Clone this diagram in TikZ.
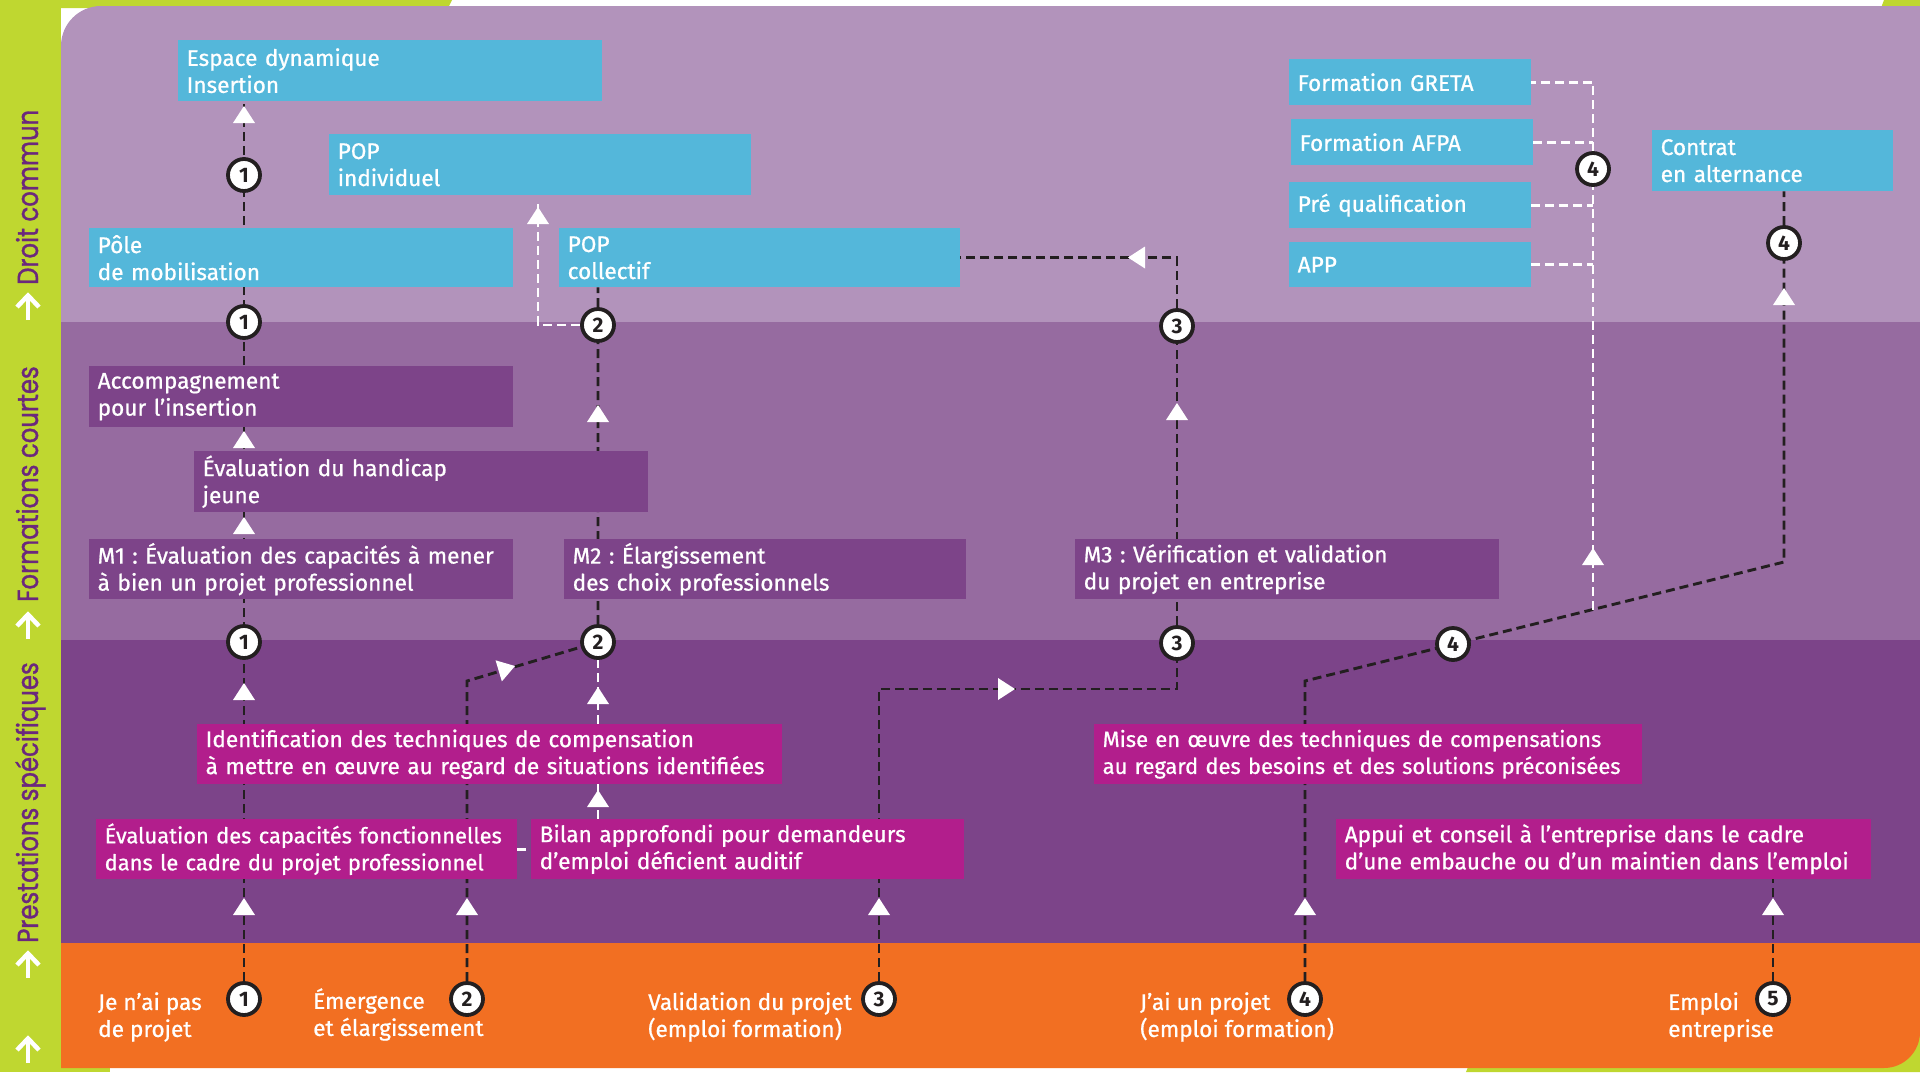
\documentclass[tikz,border=0pt]{standalone}
\usepackage{fontspec}
\setmainfont{Fira Sans}
\newfontfamily\boxfont[FakeBold=0.8]{Fira Sans}
\newfontfamily\stripfont[FakeStretch=0.84,FakeBold=1.2]{Poppins}
\usetikzlibrary{calc}
\pgfdeclarelayer{bg}
\pgfdeclarelayer{routes}
\pgfdeclarelayer{top}
\pgfsetlayers{bg,routes,main,top}

\definecolor{cLime}{HTML}{BFD730}
\definecolor{cBandA}{HTML}{B293BB}
\definecolor{cBandB}{HTML}{966BA0}
\definecolor{cBandC}{HTML}{7C4489}
\definecolor{cOrange}{HTML}{F26F22}
\definecolor{cBlue}{HTML}{54B7DA}
\definecolor{cViolet}{HTML}{7D4489}
\definecolor{cMag}{HTML}{B21E8C}
\definecolor{cInk}{HTML}{231F20}
\definecolor{cStripText}{HTML}{6B287D}

\frenchspacing
\newcommand\oneline[1]{\mbox{#1}}

\begin{document}
\begin{tikzpicture}[x=1pt,y=-1pt,
  boxbase/.style={anchor=north west, inner xsep=8.5pt, inner ysep=0pt, align=left,
    text=white, font=\boxfont\fontsize{22.6}{27}\selectfont},
  bluebox/.style={boxbase, fill=cBlue},
  violetbox/.style={boxbase, fill=cViolet},
  magbox/.style={boxbase, fill=cMag},
  tighttext/.style={font=\boxfont\fontsize{21.9}{27}\selectfont},
  blackdash/.style={draw=cInk, line width=2.9pt, dash pattern=on 9pt off 5pt},
  whitedash/.style={draw=white, line width=2.9pt, dash pattern=on 9pt off 5pt},
  numc/.style={circle, draw=cInk, line width=3.8pt, fill=white, minimum size=32pt,
    inner sep=0pt, font=\fontsize{21}{21}\selectfont\bfseries, text=cInk},
  steplabel/.style={anchor=west, inner sep=0pt, align=left, text=white,
    font=\boxfont\fontsize{22.6}{27}\selectfont},
  bandlabel/.style={rotate=90, anchor=base west, inner sep=0pt, text=cStripText,
    font=\stripfont\fontsize{29}{29}\selectfont},
  tiphead/.pic={\fill[white] (0pt,0pt) -- (-17pt,11pt) -- (-17pt,-11pt) -- cycle;},
  bandarrow/.pic={\draw[white, line width=4.5pt] (0pt,-13pt) -- (0pt,11pt);
    \draw[white, line width=4.5pt, miter limit=4] (-11pt,0pt) -- (0pt,11.5pt) -- (11pt,0pt);}
]
\useasboundingbox (0,0) rectangle (1920,1072);

\begin{pgfonlayer}{bg}
  % lime frame behind the panel
  \fill[cLime] (0,0) rectangle (61,1072);
  \fill[cLime] (0,0) -- (452,0) -- (448,8) -- (0,8) -- cycle;
  \fill[cLime] (1884,0) -- (1920,0) -- (1920,8) -- (1881,8) -- cycle;
  \fill[cLime] (0,1062) rectangle (110,1072);
  \fill[cLime] (1470,1062) -- (1920,1000) -- (1920,1072) -- (1466,1072) -- cycle;
  % panel with its four bands
  \begin{scope}
    \clip (61,1068) -- (61,46) arc[start angle=180, end angle=90, radius=40pt]
          -- (1920,6) -- (1920,1032) arc[start angle=0, end angle=-90, radius=36pt] -- cycle;
    \fill[cBandA] (61,0) rectangle (1920,322);
    \fill[cBandB] (61,322) rectangle (1920,640);
    \fill[cBandC] (61,640) rectangle (1920,943);
    \fill[cOrange] (61,943) rectangle (1920,1072);
  \end{scope}
\end{pgfonlayer}

% side labels
\node[bandlabel] (lblA) at (38,285) {Droit commun};
\node[bandlabel] (lblB) at (38,602) {Formations courtes};
\node[bandlabel] (lblC) at (38,943) {Prestations spécifiques};
\pic at (28,307) {bandarrow};
\pic at (28,626) {bandarrow};
\pic at (28,965) {bandarrow};
\pic at (28,1050) {bandarrow};

% boxes: common law
\node[bluebox, text width=407pt, minimum height=61pt] (edi) at (178,40) {Espace dynamique\\Insertion};
\node[bluebox, text width=405pt, minimum height=61pt] (popi) at (329,134) {POP\\individuel};
\node[bluebox, text width=407pt, minimum height=59pt] (pole) at (89,228) {Pôle\\de mobilisation};
\node[bluebox, text width=384pt, minimum height=59pt] (popc) at (559,228) {POP\\collectif};
\node[bluebox, text width=225pt, minimum height=46pt] (greta) at (1289,59) {Formation GRETA};
\node[bluebox, text width=225pt, minimum height=46pt] (afpa) at (1291,119) {Formation AFPA};
\node[bluebox, text width=225pt, minimum height=46pt] (preq) at (1289,182) {Pré qualification};
\node[bluebox, text width=225pt, minimum height=45pt] (app) at (1289,242) {APP};
\node[bluebox, text width=224pt, minimum height=61pt] (contrat) at (1652,130) {Contrat\\en alternance};

% boxes: short training
\node[violetbox, text width=407pt, minimum height=61pt] (accomp) at (89,366) {Accompagnement\\pour l’insertion};
\node[violetbox, text width=437pt, minimum height=61pt] (evalh) at (194,451) {Évaluation du handicap\\jeune};
\node[violetbox, text width=407pt, minimum height=60pt] (m1) at (89,539) {\oneline{M1 : Évaluation des capacités à mener}\\\oneline{à bien un projet professionnel}};
\node[violetbox, text width=385pt, minimum height=60pt] (m2) at (564,539) {M2 : Élargissement\\des choix professionnels};
\node[violetbox, text width=407pt, minimum height=60pt] (m3) at (1075,539) {M3 : Vérification et validation\\du projet en entreprise};

% boxes: specific services
\node[magbox, text width=568pt, minimum height=60pt] (ident) at (197,724) {\oneline{Identification des techniques de compensation}\\\oneline{à mettre en œuvre au regard de situations identifiées}};
\node[magbox, tighttext, text width=404pt, minimum height=60pt] (evalc) at (96,819) {\oneline{Évaluation des capacités fonctionnelles}\\\oneline{dans le cadre du projet professionnel}};
\node[magbox, text width=416pt, minimum height=60pt] (bilan) at (531,819) {\oneline{Bilan approfondi pour demandeurs}\\\oneline{d’emploi déficient auditif}};
\node[magbox, tighttext, text width=531pt, minimum height=60pt] (mise) at (1094,724) {\oneline{Mise en œuvre des techniques de compensations}\\\oneline{au regard des besoins et des solutions préconisées}};
\node[magbox, text width=518pt, minimum height=60pt] (appui) at (1336,819) {\oneline{Appui et conseil à l’entreprise dans le cadre}\\\oneline{d’une embauche ou d’un maintien dans l’emploi}};

% starting situations
\node[steplabel] (s1) at (98,1017) {Je n’ai pas\\de projet};
\node[steplabel] (s2) at (313,1014.5) {Émergence\\et élargissement};
\node[steplabel] (s3) at (648,1017) {Validation du projet\\(emploi formation)};
\node[steplabel] (s4) at (1140,1017) {J’ai un projet\\(emploi formation)};
\node[steplabel] (s5) at (1668,1017) {Emploi\\entreprise};

% step circles
\begin{pgfonlayer}{top}
  \node[numc] (c1a) at (244,999) {1};
  \node[numc] (c2a) at (467,999) {2};
  \node[numc] (c3a) at (879,999) {3};
  \node[numc] (c4a) at (1305,999) {4};
  \node[numc] (c5a) at (1773,999) {5};
  \node[numc] (c1b) at (244,642) {1};
  \node[numc] (c1c) at (244,322) {1};
  \node[numc] (c1d) at (244,175) {1};
  \node[numc] (c2b) at (598,642) {2};
  \node[numc] (c2c) at (598,325) {2};
  \node[numc] (c3b) at (1177,643) {3};
  \node[numc] (c3c) at (1177,326) {3};
  \node[numc] (c4b) at (1453,644) {4};
  \node[numc] (c4c) at (1593,169) {4};
  \node[numc] (c4d) at (1784,243) {4};
\end{pgfonlayer}

% bends of the routes
\coordinate (k2) at (467,681);
\coordinate (k3a) at (879,689);
\coordinate (k3b) at (1177,689);
\coordinate (k4a) at (1305,681);
\coordinate (k4b) at (1784,562);
\coordinate (jw) at (1593,609.5);
\coordinate (w2) at (538,200);

% routes, under the boxes
\begin{pgfonlayer}{routes}
  % route 1
  \draw[blackdash] (c1a) -- (c1a |- edi.south);
  % route 2
  \draw[blackdash] (c2a) -- (k2) -- (c2b) -- (c2c) -- (c2c |- popc.south);
  \draw[whitedash] (c2c) -| (w2);
  \draw[whitedash] (bilan.north -| c2b) -- (ident.south -| c2b);
  \draw[whitedash] (ident.north -| c2b) -- (c2b);
  \draw[whitedash] (evalc.east) -- (bilan.west);
  % route 3
  \draw[blackdash] (c3a) -- (k3a) -- (k3b) -- (c3b) -- (c3c) |- (popc.east);
  % route 4
  \draw[blackdash] (c4a) -- (k4a) -- (k4b) -- (c4d) -- (c4d |- contrat.south);
  \draw[whitedash] (jw) -- (c4c) |- (greta.east);
  \draw[whitedash] (afpa.east) -- (afpa.east -| jw);
  \draw[whitedash] (preq.east) -- (preq.east -| jw);
  \draw[whitedash] (app.east) -- (app.east -| jw);
  % route 5
  \draw[blackdash] (c5a) -- (c5a |- appui.south);
\end{pgfonlayer}

% arrow heads
\begin{pgfonlayer}{top}
  \foreach \y in {898,683,517,431,106} \pic[rotate=90] at (244,\y) {tiphead};
  \pic[rotate=90] at (467,898) {tiphead};
  \pic[rotate=16.6] at (515,666) {tiphead};
  \foreach \y in {405,687,790} \pic[rotate=90] at (598,\y) {tiphead};
  \pic[rotate=90] at (538,207) {tiphead};
  \pic[rotate=90] at (879,898) {tiphead};
  \pic at (1015,689) {tiphead};
  \pic[rotate=90] at (1177,403) {tiphead};
  \pic[rotate=180] at (1128,257.5) {tiphead};
  \pic[rotate=90] at (1305,898) {tiphead};
  \pic[rotate=90] at (1593,548) {tiphead};
  \pic[rotate=90] at (1784,288) {tiphead};
  \pic[rotate=90] at (1773,898) {tiphead};
\end{pgfonlayer}

\end{tikzpicture}
\end{document}
